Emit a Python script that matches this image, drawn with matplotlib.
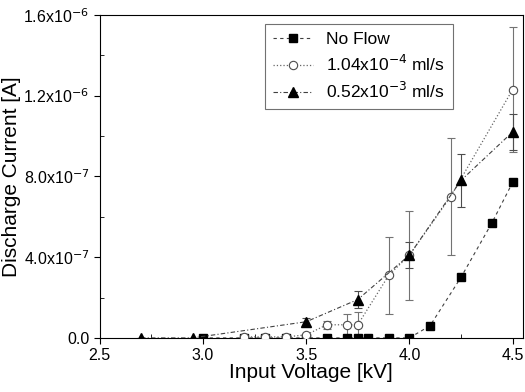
import numpy as np
import matplotlib.pyplot as plt
from matplotlib.ticker import MultipleLocator, FuncFormatter

plt.rcParams['font.family'] = ['Liberation Sans', 'DejaVu Sans']

# No Flow
v_nf = [3.0, 3.2, 3.3, 3.4, 3.5, 3.6, 3.7, 3.75, 3.8, 3.9, 4.0, 4.1, 4.25, 4.4, 4.5]
i_nf = [0.0, 0.0, 0.0, 0.0, 0.0, 0.0, 0.0, 0.0, 0.0, 0.0, 0.0, 0.06e-6, 0.30e-6, 0.57e-6, 0.77e-6]

# 1.04x10^-4 ml/s
v_lo = [3.2, 3.3, 3.4, 3.5, 3.6, 3.7, 3.75, 3.9, 4.0, 4.2, 4.5]
i_lo = [0.005e-6, 0.005e-6, 0.005e-6, 0.015e-6, 0.065e-6, 0.065e-6, 0.065e-6,
        0.31e-6, 0.41e-6, 0.70e-6, 1.23e-6]
e_lo = [0.0, 0.0, 0.0, 0.0, 0.02e-6, 0.055e-6, 0.065e-6,
        0.19e-6, 0.22e-6, 0.29e-6, 0.31e-6]

# 0.52x10^-3 ml/s
v_hi = [2.7, 2.95, 3.5, 3.75, 4.0, 4.25, 4.5]
i_hi = [0.0, 0.0, 0.08e-6, 0.19e-6, 0.41e-6, 0.78e-6, 1.02e-6]
e_hi = [0.0, 0.0, 0.02e-6, 0.04e-6, 0.065e-6, 0.13e-6, 0.09e-6]

fig = plt.figure(figsize=(5.25, 3.92), dpi=100)
ax = fig.add_axes([0.19, 0.138, 0.806, 0.824])

ax.errorbar(v_lo, i_lo, yerr=e_lo, fmt='none', ecolor='0.45', elinewidth=0.8,
            capsize=3, capthick=0.8, zorder=2)
ax.errorbar(v_hi, i_hi, yerr=e_hi, fmt='none', ecolor='0.3', elinewidth=0.8,
            capsize=3, capthick=0.8, zorder=2)

ax.plot(v_nf, i_nf, color='0.25', linestyle=(0, (3, 3)), linewidth=0.8,
        marker='s', markersize=6, markerfacecolor='black', markeredgecolor='black',
        label='No Flow', zorder=3)
ax.plot(v_lo, i_lo, color='0.4', linestyle=':', linewidth=0.9,
        marker='o', markersize=6, markerfacecolor='white', markeredgecolor='0.3',
        markeredgewidth=0.8, label='1.04x10$^{-4}$ ml/s', zorder=3)
ax.plot(v_hi, i_hi, color='0.25', linestyle=(0, (4, 2, 1, 2)), linewidth=0.8,
        marker='^', markersize=7, markerfacecolor='black', markeredgecolor='black',
        label='0.52x10$^{-3}$ ml/s', zorder=4)

ax.set_xlim(2.5, 4.55)
ax.set_ylim(0, 1.6e-6)
ax.xaxis.set_major_locator(MultipleLocator(0.5))
ax.xaxis.set_minor_locator(MultipleLocator(0.25))
ax.yaxis.set_major_locator(MultipleLocator(4e-7))
ax.yaxis.set_minor_locator(MultipleLocator(2e-7))


def yfmt(v, pos):
    if abs(v) < 1e-12:
        return '0.0'
    exp = int(np.floor(np.log10(abs(v))))
    m = v / 10**exp
    return '%.1fx10$^{%d}$' % (m, exp)


ax.yaxis.set_major_formatter(FuncFormatter(yfmt))
ax.xaxis.set_major_formatter(FuncFormatter(lambda v, p: '%.1f' % v))
ax.tick_params(which='major', direction='out', length=4, labelsize=11.5)
ax.tick_params(which='minor', direction='in', length=3)

ax.set_xlabel('Input Voltage [kV]', fontsize=15, labelpad=0)
ax.set_ylabel('Discharge Current [A]', fontsize=15, labelpad=2)

leg = ax.legend(loc='upper left', bbox_to_anchor=(0.39, 0.972), fontsize=12.5,
                frameon=True, fancybox=False, edgecolor='0.3', handlelength=2.3,
                borderpad=0.45, labelspacing=0.4, borderaxespad=0)
leg.get_frame().set_linewidth(0.8)

fig.savefig('out.png', dpi=100)
